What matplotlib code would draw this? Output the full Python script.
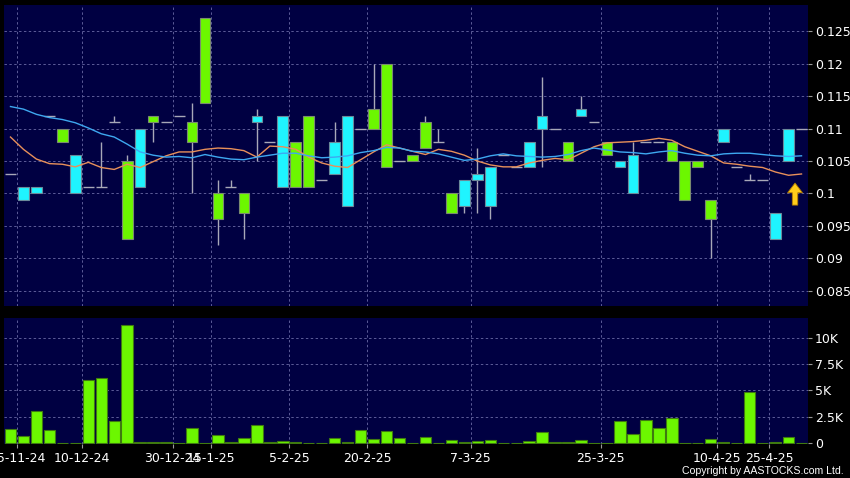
import numpy as np
import matplotlib.pyplot as plt

# daily candles (oldest first)
opens = [0.103, 0.099, 0.100, 0.112, 0.110, 0.100, 0.101, 0.101, 0.111, 0.105,
         0.101, 0.112, 0.111, 0.112, 0.111, 0.127, 0.100, 0.101, 0.100, 0.111,
         0.108, 0.101, 0.108, 0.112, 0.102, 0.103, 0.098, 0.110, 0.113, 0.120,
         0.105, 0.106, 0.111, 0.108, 0.100, 0.098, 0.102, 0.098, 0.106, 0.104,
         0.104, 0.110, 0.110, 0.108, 0.112, 0.111, 0.108, 0.104, 0.100, 0.108,
         0.108, 0.108, 0.105, 0.105, 0.099, 0.108, 0.104, 0.102, 0.102, 0.093,
         0.105, 0.110]
closes = [0.103, 0.101, 0.101, 0.112, 0.108, 0.106, 0.101, 0.101, 0.111, 0.093,
          0.110, 0.111, 0.111, 0.112, 0.108, 0.114, 0.096, 0.101, 0.097, 0.112,
          0.108, 0.112, 0.101, 0.101, 0.102, 0.108, 0.112, 0.110, 0.110, 0.104,
          0.105, 0.105, 0.107, 0.108, 0.097, 0.102, 0.103, 0.104, 0.106, 0.104,
          0.108, 0.112, 0.110, 0.105, 0.113, 0.111, 0.106, 0.105, 0.106, 0.108,
          0.108, 0.105, 0.099, 0.104, 0.096, 0.110, 0.104, 0.102, 0.102, 0.097,
          0.110, 0.110]
highs = [0.103, 0.101, 0.101, 0.112, 0.110, 0.106, 0.101, 0.108, 0.112, 0.106,
         0.110, 0.112, 0.111, 0.112, 0.114, 0.127, 0.102, 0.102, 0.100, 0.113,
         0.108, 0.112, 0.108, 0.112, 0.102, 0.111, 0.112, 0.110, 0.120, 0.120,
         0.105, 0.106, 0.112, 0.110, 0.100, 0.102, 0.107, 0.104, 0.106, 0.104,
         0.108, 0.118, 0.110, 0.108, 0.115, 0.111, 0.108, 0.105, 0.108, 0.108,
         0.108, 0.108, 0.105, 0.105, 0.099, 0.110, 0.104, 0.103, 0.102, 0.097,
         0.110, 0.110]
lows = [0.103, 0.099, 0.100, 0.112, 0.108, 0.100, 0.101, 0.101, 0.111, 0.093,
        0.101, 0.108, 0.111, 0.112, 0.100, 0.114, 0.092, 0.101, 0.093, 0.105,
        0.108, 0.101, 0.101, 0.101, 0.102, 0.103, 0.098, 0.110, 0.110, 0.104,
        0.105, 0.105, 0.107, 0.108, 0.097, 0.097, 0.097, 0.096, 0.106, 0.104,
        0.104, 0.104, 0.110, 0.105, 0.112, 0.111, 0.106, 0.104, 0.100, 0.108,
        0.108, 0.105, 0.099, 0.104, 0.090, 0.108, 0.104, 0.102, 0.102, 0.093,
        0.105, 0.110]

# volume in thousands
volume = [1.39, 0.66, 3.04, 1.23, 0, 0, 6.0, 6.17, 2.09, 11.23,
          0.1, 0.15, 0.1, 0, 1.45, 0, 0.79, 0.1, 0.5, 1.71,
          0.1, 0.2, 0.1, 0.05, 0, 0.5, 0.15, 1.23, 0.38, 1.14,
          0.5, 0, 0.57, 0.05, 0.32, 0.16, 0.22, 0.32, 0, 0,
          0.22, 1.05, 0.1, 0.13, 0.32, 0.03, 0.05, 2.09, 0.89, 2.22,
          1.46, 2.44, 0.03, 0, 0.44, 0.08, 0, 4.84, 0, 0.1,
          0.6, 0]

ma_blue = [0.1134, 0.1130, 0.1122, 0.1117, 0.1114, 0.1109, 0.1101, 0.1092, 0.1087, 0.1076,
           0.1064, 0.1059, 0.1056, 0.1057, 0.1055, 0.1060, 0.1056, 0.1053, 0.1052, 0.1056,
           0.1059, 0.1062, 0.1062, 0.1058, 0.1055, 0.1056, 0.1058, 0.1063, 0.1066, 0.1071,
           0.1070, 0.1065, 0.1064, 0.1061, 0.1056, 0.1051, 0.1053, 0.1058, 0.1061, 0.1058,
           0.1057, 0.1056, 0.1057, 0.1060, 0.1066, 0.1070, 0.1067, 0.1064, 0.1063, 0.1061,
           0.1064, 0.1066, 0.1062, 0.1059, 0.1058, 0.1061, 0.1062, 0.1062, 0.1060, 0.1058,
           0.1057, 0.1058]
ma_orange = [0.1087, 0.1068, 0.1053, 0.1046, 0.1045, 0.1041, 0.1048, 0.1040, 0.1037, 0.1045,
             0.1040, 0.1049, 0.1058, 0.1064, 0.1064, 0.1068, 0.1070, 0.1069, 0.1066, 0.1056,
             0.1073, 0.1072, 0.1068, 0.1056, 0.1047, 0.1042, 0.1040, 0.1052, 0.1064, 0.1075,
             0.1070, 0.1065, 0.1060, 0.1068, 0.1065, 0.1059, 0.1050, 0.1044, 0.1041, 0.1041,
             0.1047, 0.1051, 0.1054, 0.1052, 0.1062, 0.1072, 0.1078, 0.1079, 0.1080, 0.1082,
             0.1085, 0.1082, 0.1072, 0.1065, 0.1058, 0.1047, 0.1045, 0.1042, 0.1040, 0.1033,
             0.1028, 0.1030]

# date ticks sit on the boundary before these candles
tick_idx = [1, 6, 13, 16, 22, 28, 36, 46, 55, 59]
tick_labels = ['25-11-24', '10-12-24', '30-12-24', '15-1-25', '5-2-25', '20-2-25',
               '7-3-25', '25-3-25', '10-4-25', '25-4-25']

price_ticks = [0.085, 0.09, 0.095, 0.1, 0.105, 0.11, 0.115, 0.12, 0.125]
vol_ticks = [0, 2.5, 5, 7.5, 10]
vol_labels = ['0', '2.5K', '5K', '7.5K', '10K']

navy = '#000042'
grid_col = '#5c5c98'
cyan = '#1ff4ff'
lime = '#6cf700'
wick = '#a8a8b8'

plt.rcParams['font.family'] = 'DejaVu Sans'
fig = plt.figure(figsize=(8.5, 4.78), dpi=100, facecolor='black')
W, H = 850, 478
ax = fig.add_axes([4 / W, (H - 306) / H, 804 / W, 301 / H])
axv = fig.add_axes([4 / W, (H - 444) / H, 804 / W, 126 / H])

n = len(opens)
x = np.arange(n)
o = np.array(opens)
c = np.array(closes)

for a in (ax, axv):
    a.set_facecolor(navy)
    for s in a.spines.values():
        s.set_visible(False)
    a.set_xlim(-0.5, n - 0.5)
    a.yaxis.tick_right()
    a.tick_params(axis='y', colors='white', labelsize=9, length=3, pad=2, color='#999999')
    a.tick_params(axis='x', colors='#999999', length=3, labelsize=9, labelcolor='white', pad=3)
    for t in tick_idx:
        a.axvline(t - 0.5, color=grid_col, lw=0.7, ls=(0, (2.5, 2.5)), zorder=0)

# price panel
ax.set_ylim(0.08264, 0.12906)
ax.set_yticks(price_ticks)
ax.set_yticklabels([f'{v:g}' for v in price_ticks])
for v in price_ticks:
    ax.axhline(v, color=grid_col, lw=0.7, ls=(0, (2.5, 2.5)), zorder=0)
ax.set_xticks([])

ax.vlines(x, lows, highs, color=wick, lw=1, zorder=2)
up = c > o
down = c < o
flat = c == o
ax.bar(x[up], (c - o)[up], bottom=o[up], width=0.82, color=cyan,
       edgecolor='#6a8a9a', lw=0.8, zorder=3)
ax.bar(x[down], (o - c)[down], bottom=c[down], width=0.82, color=lime,
       edgecolor='#7a8a70', lw=0.8, zorder=3)
ax.hlines(c[flat], x[flat] - 0.42, x[flat] + 0.42, color=wick, lw=1, zorder=3)

ax.plot(x, ma_orange, color='#e8905a', lw=1, zorder=4)
ax.plot(x, ma_blue, color='#3ea8f0', lw=1, zorder=4)

ax.arrow(60.5, 0.0982, 0, 0.0034, width=0.42, head_width=1.15, head_length=0.0015,
         length_includes_head=True, fc='#ffcc1a', ec='#b07a00', lw=0.6, zorder=5)

# volume panel
axv.set_ylim(-0.07, 11.87)
axv.set_yticks(vol_ticks)
axv.set_yticklabels(vol_labels)
for v in vol_ticks[1:]:
    axv.axhline(v, color=grid_col, lw=0.7, ls=(0, (2.5, 2.5)), zorder=0)
axv.bar(x, volume, width=0.88, color=lime, edgecolor='#3f7a10', lw=0.8, zorder=3)
axv.set_xticks([t - 0.5 for t in tick_idx])
axv.set_xticklabels(tick_labels)

fig.text(844 / W, 1 - 471.5 / H, 'Copyright by AASTOCKS.com Ltd.', color='white',
         fontsize=7.6, ha='right', va='center', family='Liberation Sans')

fig.savefig('out.png', dpi=100, facecolor='black')
